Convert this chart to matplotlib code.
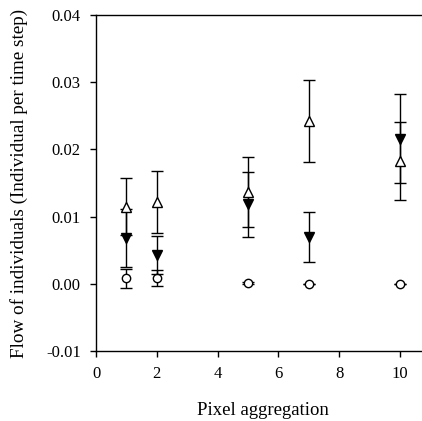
import matplotlib
matplotlib.use("Agg")
import matplotlib.pyplot as plt

plt.rcParams['font.family'] = ['Liberation Serif', 'DejaVu Serif']

x = [1, 2, 5, 7, 10]
open_tri = [0.0115, 0.0122, 0.0136, 0.0242, 0.0183]
open_tri_err = [0.0042, 0.0046, 0.0052, 0.0061, 0.0058]
filled_tri = [0.0068, 0.0043, 0.0118, 0.0070, 0.0216]
filled_tri_err = [0.0043, 0.0028, 0.0048, 0.0037, 0.0066]
circ = [0.0008, 0.0008, 0.0001, 0.0000, 0.0000]
circ_err = [0.0014, 0.0012, 0.0002, 0.0, 0.0]

fig = plt.figure(figsize=(4.22, 4.21), dpi=100)
ax = fig.add_axes([0.2275, 0.1663, 0.7924, 0.7981])

ekw = dict(ecolor='black', elinewidth=1.0, capsize=4, capthick=1.0, linestyle='none')
ax.errorbar(x, circ, yerr=circ_err, marker='o', ms=6, mfc='white', mec='black', mew=1.0, **ekw, zorder=3)
ax.errorbar(x, filled_tri, yerr=filled_tri_err, marker='v', ms=7.5, mfc='black', mec='black', **ekw, zorder=4)
ax.errorbar(x, open_tri, yerr=open_tri_err, marker='^', ms=7.5, mfc='white', mec='black', mew=1.0, **ekw, zorder=5)

ax.set_xlim(0, 11)
ax.set_ylim(-0.01, 0.04)
ax.set_xticks([0, 2, 4, 6, 8, 10])
ax.set_yticks([-0.01, 0.0, 0.01, 0.02, 0.03, 0.04])
ax.set_yticklabels(['-0.01', '0.00', '0.01', '0.02', '0.03', '0.04'])
ax.tick_params(direction='out', length=4.5, width=1, labelsize=12, colors='black', pad=6.5)
ax.spines['right'].set_visible(False)
for s in ['left', 'bottom', 'top']:
    ax.spines[s].set_linewidth(1.0)

ax.set_xlabel('Pixel aggregation', fontsize=13.5, labelpad=14)
ax.set_ylabel('Flow of individuals (Individual per time step)', fontsize=13.8, labelpad=13)

fig.savefig('out.png', dpi=100)
